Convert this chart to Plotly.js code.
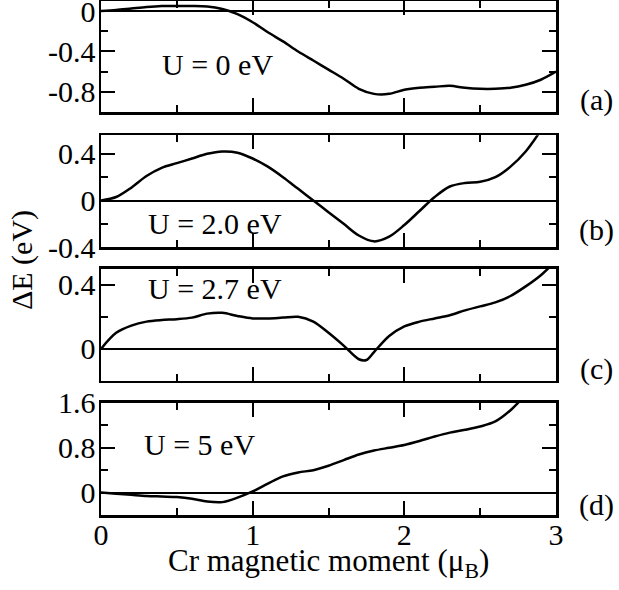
<!DOCTYPE html>
<html>
<head>
<meta charset="utf-8">
<script src="https://cdn.plot.ly/plotly-3.0.1.min.js"></script>
<style>html,body{margin:0;padding:0;background:#fff;}#chart{width:619px;height:590px;}</style>
</head>
<body>
<div id="chart"></div>
<script>
// Panel (a) U = 0 eV
const xA = [0,0.1,0.2,0.3,0.4,0.5,0.6,0.7,0.8,0.9,1.0,1.1,1.2,1.3,1.4,1.5,1.6,1.7,1.8,1.9,2.0,2.1,2.2,2.3,2.4,2.5,2.6,2.7,2.8,2.9,3.0];
const yA = [0,0.01,0.025,0.04,0.05,0.05,0.05,0.045,0.02,-0.03,-0.11,-0.21,-0.30,-0.40,-0.49,-0.58,-0.67,-0.77,-0.82,-0.82,-0.78,-0.76,-0.75,-0.74,-0.76,-0.77,-0.77,-0.76,-0.73,-0.68,-0.60];
// Panel (b) U = 2.0 eV
const xB = [0,0.1,0.2,0.3,0.4,0.5,0.6,0.7,0.8,0.9,1.0,1.1,1.2,1.3,1.4,1.5,1.6,1.7,1.8,1.9,2.0,2.1,2.2,2.3,2.4,2.5,2.6,2.7,2.8,2.9];
const yB = [0,0.03,0.11,0.21,0.28,0.32,0.36,0.40,0.42,0.41,0.36,0.29,0.20,0.10,0.0,-0.10,-0.20,-0.30,-0.35,-0.31,-0.21,-0.09,0.03,0.12,0.15,0.16,0.20,0.29,0.42,0.60];
// Panel (c) U = 2.7 eV
const xC = [0,0.1,0.2,0.3,0.4,0.5,0.6,0.7,0.8,0.9,1.0,1.1,1.2,1.3,1.4,1.5,1.6,1.7,1.75,1.8,1.9,2.0,2.1,2.2,2.3,2.4,2.5,2.6,2.7,2.8,2.9,3.0];
const yC = [0,0.10,0.145,0.17,0.18,0.185,0.195,0.22,0.225,0.205,0.19,0.19,0.195,0.20,0.17,0.10,0.02,-0.065,-0.07,-0.02,0.08,0.14,0.17,0.19,0.21,0.24,0.265,0.29,0.33,0.39,0.46,0.55];
// Panel (d) U = 5 eV
const xD = [0,0.1,0.2,0.3,0.4,0.5,0.6,0.7,0.8,0.9,1.0,1.1,1.2,1.3,1.4,1.5,1.6,1.7,1.8,1.9,2.0,2.1,2.2,2.3,2.4,2.5,2.6,2.7,2.8];
const yD = [0,-0.02,-0.04,-0.06,-0.07,-0.08,-0.11,-0.16,-0.17,-0.09,0.02,0.16,0.29,0.36,0.40,0.48,0.58,0.68,0.75,0.80,0.85,0.92,1.00,1.07,1.12,1.18,1.27,1.47,1.75];

const panelLabels = ["(a)","(b)","(c)","(d)"];
const uLabels = ["U = 0 eV","U = 2.0 eV","U = 2.7 eV","U = 5 eV"];
const xTitle = "Cr magnetic moment (μ<sub>B</sub>)";
const yTitle = "ΔE (eV)";

const xTickVals = [0,1,2,3];
const xTickText = ["0","1","2","3"];
const yTickValsA = [-0.8,-0.4,0];   const yTickTextA = ["-0.8","-0.4","0"];
const yTickValsB = [-0.4,0,0.4];    const yTickTextB = ["-0.4","0","0.4"];
const yTickValsC = [0,0.4];         const yTickTextC = ["0","0.4"];
const yTickValsD = [0,0.8,1.6];     const yTickTextD = ["0","0.8","1.6"];

const FONT = '"Liberation Serif"';
const FS = 30;
const tf = {family:FONT, size:FS, color:'#000'};
const titleFont = {family:FONT, size:31, color:'#000'};
const lineStyle = {color:'#000', width:2.5, shape:'spline', smoothing:0.9};

const traces = [
  {x:xA, y:yA, xaxis:'x', yaxis:'y', mode:'lines', line:lineStyle},
  {x:xB, y:yB, xaxis:'x2', yaxis:'y2', mode:'lines', line:lineStyle},
  {x:xC, y:yC, xaxis:'x3', yaxis:'y3', mode:'lines', line:lineStyle},
  {x:xD, y:yD, xaxis:'x4', yaxis:'y4', mode:'lines', line:lineStyle}
];

function xax(anchor, showLabels) {
  return {
    anchor: anchor, range:[0,3], showline:true, linecolor:'#000', linewidth:2.5, mirror:'ticks',
    ticks:'inside', ticklen:14, tickwidth:2, tickcolor:'#000',
    tickvals:xTickVals, ticktext:xTickText, showticklabels:showLabels,
    minor:{ticks:'inside', ticklen:7, tickwidth:2, tickcolor:'#000', dtick:0.5, tick0:0, showgrid:false},
    showgrid:false, zeroline:false, fixedrange:true,
    tickfont:tf, ticklabelstandoff:-9, ticklabeloverflow:'allow'
  };
}
function yax(anchor, dom, rng, tv, tt, minorDt) {
  return {
    anchor: anchor, domain:dom, range:rng, showline:true, linecolor:'#000', linewidth:2.5, mirror:'ticks',
    ticks:'inside', ticklen:14, tickwidth:2, tickcolor:'#000',
    tickvals:tv, ticktext:tt,
    minor:{ticks:'inside', ticklen:7, tickwidth:2, tickcolor:'#000', dtick:minorDt, tick0:0, showgrid:false},
    showgrid:false, zeroline:true, zerolinecolor:'#000', zerolinewidth:2, fixedrange:true,
    tickfont:tf, ticklabelstandoff:-3, ticklabeloverflow:'allow'
  };
}

const layout = {
  width:619, height:590,
  margin:{l:101, r:63, t:1, b:75},
  paper_bgcolor:'#fff', plot_bgcolor:'#fff',
  showlegend:false,
  font:tf,
  xaxis: xax('y', false),
  xaxis2: xax('y2', false),
  xaxis3: xax('y3', false),
  xaxis4: xax('y4', true),
  yaxis:  yax('x',  [0.784,1.0],   [-1.0,0.1],  yTickValsA, yTickTextA, 0.2),
  yaxis2: yax('x2', [0.521,0.739], [-0.4,0.56], yTickValsB, yTickTextB, 0.2),
  yaxis3: yax('x3', [0.261,0.479], [-0.2,0.5],  yTickValsC, yTickTextC, 0.2),
  yaxis4: yax('x4', [0,0.218],     [-0.4,1.6],  yTickValsD, yTickTextD, 0.4),
  annotations: [
    {text:uLabels[0], xref:'x', yref:'y', x:0.77, y:-0.53, showarrow:false, font:tf},
    {text:uLabels[1], xref:'x2', yref:'y2', x:0.75, y:-0.20, showarrow:false, font:tf},
    {text:uLabels[2], xref:'x3', yref:'y3', x:0.75, y:0.38, showarrow:false, font:tf},
    {text:uLabels[3], xref:'x4', yref:'y4', x:0.65, y:0.85, showarrow:false, font:tf},
    {text:panelLabels[0], xref:'paper', yref:'paper', x:1.09, y:(515-100)/514, showarrow:false, xanchor:'center', yanchor:'middle', font:tf},
    {text:panelLabels[1], xref:'paper', yref:'paper', x:1.09, y:(515-230)/514, showarrow:false, xanchor:'center', yanchor:'middle', font:tf},
    {text:panelLabels[2], xref:'paper', yref:'paper', x:1.09, y:(515-369)/514, showarrow:false, xanchor:'center', yanchor:'middle', font:tf},
    {text:panelLabels[3], xref:'paper', yref:'paper', x:1.09, y:(515-505)/514, showarrow:false, xanchor:'center', yanchor:'middle', font:tf},
    {text:xTitle, xref:'paper', yref:'paper', x:0.5, y:(515-563)/514, showarrow:false, xanchor:'center', yanchor:'middle', font:titleFont},
    {text:yTitle, xref:'paper', yref:'paper', x:(22-101)/455, y:(515-260)/514, showarrow:false, textangle:-90, xanchor:'center', yanchor:'middle', font:tf}
  ]
};

Plotly.newPlot('chart', traces, layout, {staticPlot:true, displayModeBar:false});
</script>
</body>
</html>
